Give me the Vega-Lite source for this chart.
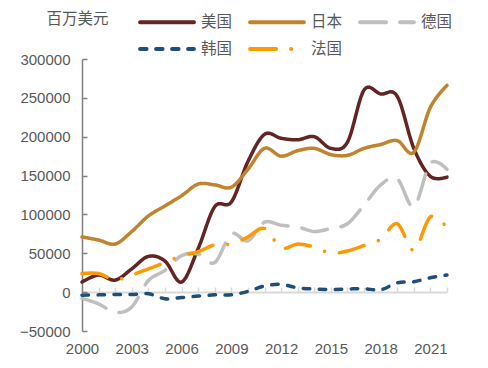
{
  "$schema": "https://vega.github.io/schema/vega-lite/v6.json",
  "width": 365,
  "height": 272,
  "autosize": {"type": "none"},
  "padding": {"left": 82, "top": 59, "right": 41, "bottom": 37},
  "background": "white",
  "config": {"view": {"stroke": null}, "font": "Liberation Sans, Noto Sans CJK SC"},
  "data": {"values": [
    {"year":2000,"country":"美国","value":13000},{"year":2001,"country":"美国","value":22000},{"year":2002,"country":"美国","value":15500},{"year":2003,"country":"美国","value":30000},{"year":2004,"country":"美国","value":46000},{"year":2005,"country":"美国","value":40000},{"year":2006,"country":"美国","value":13000},{"year":2007,"country":"美国","value":56000},{"year":2008,"country":"美国","value":110000},{"year":2009,"country":"美国","value":116000},{"year":2010,"country":"美国","value":168000},{"year":2011,"country":"美国","value":203000},{"year":2012,"country":"美国","value":198000},{"year":2013,"country":"美国","value":196000},{"year":2014,"country":"美国","value":200000},{"year":2015,"country":"美国","value":185000},{"year":2016,"country":"美国","value":193000},{"year":2017,"country":"美国","value":260000},{"year":2018,"country":"美国","value":255000},{"year":2019,"country":"美国","value":252000},{"year":2020,"country":"美国","value":185000},{"year":2021,"country":"美国","value":149000},{"year":2022,"country":"美国","value":148000},
    {"year":2000,"country":"日本","value":71000},{"year":2001,"country":"日本","value":67000},{"year":2002,"country":"日本","value":62000},{"year":2003,"country":"日本","value":78000},{"year":2004,"country":"日本","value":98000},{"year":2005,"country":"日本","value":111000},{"year":2006,"country":"日本","value":124000},{"year":2007,"country":"日本","value":139000},{"year":2008,"country":"日本","value":138000},{"year":2009,"country":"日本","value":135000},{"year":2010,"country":"日本","value":158000},{"year":2011,"country":"日本","value":185000},{"year":2012,"country":"日本","value":175000},{"year":2013,"country":"日本","value":182000},{"year":2014,"country":"日本","value":185000},{"year":2015,"country":"日本","value":177000},{"year":2016,"country":"日本","value":176000},{"year":2017,"country":"日本","value":185000},{"year":2018,"country":"日本","value":190000},{"year":2019,"country":"日本","value":195000},{"year":2020,"country":"日本","value":180000},{"year":2021,"country":"日本","value":238000},{"year":2022,"country":"日本","value":266000},
    {"year":2000,"country":"德国","value":-8000},{"year":2001,"country":"德国","value":-15000},{"year":2002,"country":"德国","value":-26000},{"year":2003,"country":"德国","value":-19000},{"year":2004,"country":"德国","value":15000},{"year":2005,"country":"德国","value":28000},{"year":2006,"country":"德国","value":47000},{"year":2007,"country":"德国","value":49000},{"year":2008,"country":"德国","value":38000},{"year":2009,"country":"德国","value":75000},{"year":2010,"country":"德国","value":66000},{"year":2011,"country":"德国","value":90000},{"year":2012,"country":"德国","value":86000},{"year":2013,"country":"德国","value":84000},{"year":2014,"country":"德国","value":78000},{"year":2015,"country":"德国","value":82000},{"year":2016,"country":"德国","value":88000},{"year":2017,"country":"德国","value":112000},{"year":2018,"country":"德国","value":138000},{"year":2019,"country":"德国","value":146000},{"year":2020,"country":"德国","value":110000},{"year":2021,"country":"德国","value":166000},{"year":2022,"country":"德国","value":158000},
    {"year":2000,"country":"韩国","value":-4000},{"year":2001,"country":"韩国","value":-3500},{"year":2002,"country":"韩国","value":-3000},{"year":2003,"country":"韩国","value":-3000},{"year":2004,"country":"韩国","value":-2000},{"year":2005,"country":"韩国","value":-8500},{"year":2006,"country":"韩国","value":-7000},{"year":2007,"country":"韩国","value":-5000},{"year":2008,"country":"韩国","value":-3500},{"year":2009,"country":"韩国","value":-3500},{"year":2010,"country":"韩国","value":1000},{"year":2011,"country":"韩国","value":8000},{"year":2012,"country":"韩国","value":10000},{"year":2013,"country":"韩国","value":5500},{"year":2014,"country":"韩国","value":4000},{"year":2015,"country":"韩国","value":3500},{"year":2016,"country":"韩国","value":4000},{"year":2017,"country":"韩国","value":4500},{"year":2018,"country":"韩国","value":3000},{"year":2019,"country":"韩国","value":12000},{"year":2020,"country":"韩国","value":13500},{"year":2021,"country":"韩国","value":18500},{"year":2022,"country":"韩国","value":22000},
    {"year":2000,"country":"法国","value":24000},{"year":2001,"country":"法国","value":24000},{"year":2002,"country":"法国","value":16000},{"year":2003,"country":"法国","value":22000},{"year":2004,"country":"法国","value":30000},{"year":2005,"country":"法国","value":38000},{"year":2006,"country":"法国","value":47000},{"year":2007,"country":"法国","value":52000},{"year":2008,"country":"法国","value":61000},{"year":2009,"country":"法国","value":62000},{"year":2010,"country":"法国","value":71000},{"year":2011,"country":"法国","value":82000},{"year":2012,"country":"法国","value":57000},{"year":2013,"country":"法国","value":62000},{"year":2014,"country":"法国","value":58000},{"year":2015,"country":"法国","value":50000},{"year":2016,"country":"法国","value":53000},{"year":2017,"country":"法国","value":60000},{"year":2018,"country":"法国","value":68000},{"year":2019,"country":"法国","value":88000},{"year":2020,"country":"法国","value":54000},{"year":2021,"country":"法国","value":97000},{"year":2022,"country":"法国","value":83000}
  ]},
  "mark": {"type": "line", "interpolate": "cardinal", "strokeWidth": 3.5, "strokeCap": "round", "strokeJoin": "round"},
  "encoding": {
    "x": {"field": "year", "type": "quantitative", "scale": {"domain": [2000, 2022], "nice": false, "zero": false},
      "axis": {"orient": "top", "offset": -233,
        "values": [2000,2001,2002,2003,2004,2005,2006,2007,2008,2009,2010,2011,2012,2013,2014,2015,2016,2017,2018,2019,2020,2021,2022],
        "labelExpr": "(datum.value - 2000) % 3 == 0 ? datum.label : ''",
        "format": "d", "domain": true, "domainColor": "#d9d9d9", "domainWidth": 2,
        "ticks": true, "tickSize": 5, "tickColor": "#d9d9d9", "tickWidth": 1.5, "grid": false,
        "labelFontSize": 15, "labelColor": "#595959", "labelBaseline": "top", "labelPadding": -54, "labelOverlap": false, "labelFlush": false, "title": null, "zindex": 0}},
    "y": {"field": "value", "type": "quantitative", "scale": {"domain": [-50000, 300000], "nice": false, "zero": false},
      "axis": {"orient": "right", "offset": -365, "values": [-50000,0,50000,100000,150000,200000,250000,300000], "format": "d", "grid": false, "labelOverlap": false,
        "domainColor": "#808080", "domainWidth": 1.5, "ticks": true, "tickColor": "#808080", "tickSize": 5, "tickWidth": 1.5,
        "labelFontSize": 15, "labelColor": "#595959", "labelAlign": "right", "labelPadding": -17,
        "title": "百万美元", "titleAngle": 0, "titleX": -5, "titleY": -41, "titleAlign": "center", "titleBaseline": "middle",
        "titleFontSize": 15.5, "titleFontWeight": "normal", "titleColor": "#595959", "titleFont": "Noto Sans CJK SC"}},
    "color": {"field": "country", "type": "nominal",
      "scale": {"domain": ["美国","日本","德国","韩国","法国"], "range": ["#632523","#c0842e","#bfbfbf","#1f4e79","#ff9900"]},
      "legend": {"orient": "none", "legendX": 56, "legendY": -45, "columns": 3, "direction": "horizontal", "title": null,
        "symbolType": "stroke", "symbolSize": 2900, "symbolStrokeWidth": 4, "clipHeight": 16, "labelFontSize": 15.5, "labelColor": "#595959",
        "labelFont": "Noto Sans CJK SC", "labelOffset": 5, "columnPadding": 15, "rowPadding": 10,
        "encode": {"symbols": {"update": {"strokeCap": {"value": "round"}}}}}},
    "strokeDash": {"field": "country", "type": "nominal",
      "scale": {"domain": ["美国","日本","德国","韩国","法国"], "range": [[1,0],[1,0],[26,14],[6.5,9.5],[26,15,0.1,15]]},
      "legend": {"orient": "none", "legendX": 56, "legendY": -45, "columns": 3, "direction": "horizontal", "title": null,
        "symbolType": "stroke", "symbolSize": 2900, "symbolStrokeWidth": 4, "clipHeight": 16, "labelFontSize": 15.5, "labelColor": "#595959",
        "labelFont": "Noto Sans CJK SC", "labelOffset": 5, "columnPadding": 15, "rowPadding": 10,
        "encode": {"symbols": {"update": {"strokeCap": {"value": "round"}}}}}}
  }
}
